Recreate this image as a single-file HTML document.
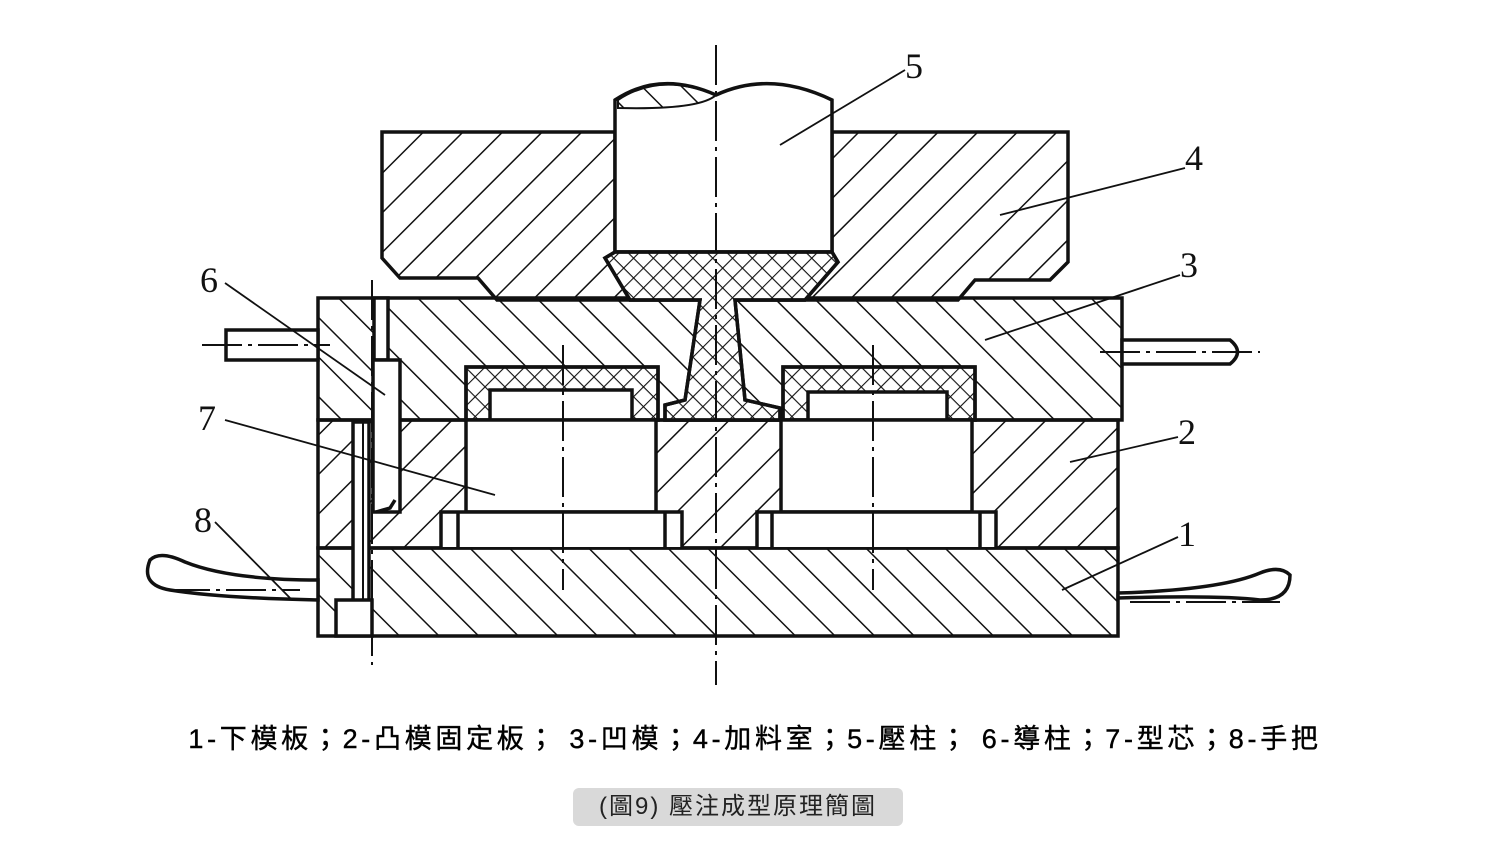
<!DOCTYPE html>
<html><head><meta charset="utf-8"><style>
body{margin:0;background:#fff;width:1500px;height:844px;overflow:hidden;position:relative;font-family:"Liberation Sans","Noto Sans CJK TC",sans-serif}
.cap{position:absolute;left:0;width:1510px;top:717px;text-align:center;font-size:27px;letter-spacing:3.7px;color:#000;-webkit-text-stroke:0.4px #000}
.box{position:absolute;left:573px;top:788px;width:330px;height:38px;background:#d9d9d9;border-radius:6px;text-align:center;line-height:38px;font-size:24px;color:#222;letter-spacing:2px}
</style></head><body>
<svg width="1500" height="700" style="position:absolute;left:0;top:0" font-family="Liberation Serif,serif">
<defs>
<pattern id="h" width="28" height="28" patternUnits="userSpaceOnUse" patternTransform="rotate(45)"><line x1="0" y1="0" x2="0" y2="28" stroke="#111" stroke-width="3"/></pattern>
<pattern id="h2" width="28" height="28" patternUnits="userSpaceOnUse" patternTransform="rotate(-45)"><line x1="0" y1="0" x2="0" y2="28" stroke="#111" stroke-width="3"/></pattern>
<pattern id="x" width="14" height="14" patternUnits="userSpaceOnUse" patternTransform="rotate(45)"><path d="M0 0V14M0 0H14" stroke="#111" stroke-width="2.2"/></pattern>
</defs>
<g stroke="#111" stroke-width="3.5" fill="none">
<path d="M382 132H615V252H832V132H1068V262L1050 280H975L958 300H497L478 278H400L382 258Z" fill="url(#h)"/>
<path d="M615 100Q660 70 716 95Q770 70 832 100V252H615Z" fill="#fff"/>
<path d="M618 100Q660 72 716 95Q700 110 618 108Z" fill="url(#h2)" stroke-width="2"/>
<rect x="318" y="298" width="804" height="122" fill="url(#h2)"/>
<rect x="318" y="420" width="800" height="128" fill="url(#h)"/>
<rect x="318" y="548" width="800" height="88" fill="url(#h2)"/>
<path d="M605 258L615 252H832L838 262L805 300H735L745 400L780 408V420H665V405L685 400L700 300H630Z" fill="#fff"/>
<path d="M605 258L615 252H832L838 262L805 300H735L745 400L780 408V420H665V405L685 400L700 300H630Z" fill="url(#x)"/>
<rect x="466" y="367" width="192" height="53" fill="#fff"/><rect x="466" y="367" width="192" height="53" fill="url(#x)"/>
<rect x="783" y="367" width="192" height="53" fill="#fff"/><rect x="783" y="367" width="192" height="53" fill="url(#x)"/>
<rect x="490" y="390" width="142" height="30" fill="#fff"/>
<rect x="808" y="392" width="139" height="28" fill="#fff"/>
<rect x="466" y="420" width="190" height="92" fill="#fff"/>
<rect x="781" y="420" width="191" height="92" fill="#fff"/>
<rect x="442" y="513" width="239" height="34" fill="#fff" stroke="none"/>
<rect x="758" y="513" width="237" height="34" fill="#fff" stroke="none"/>
<path d="M441 548V512H682V548M458 512V548M665 512V548M757 548V512H996V548M772 512V548M980 512V548"/>
<rect x="374" y="298" width="14" height="62" fill="#fff"/>
<rect x="373" y="360" width="27" height="152" fill="#fff"/>
<path d="M376 512L390 508L395 500"/>
<rect x="353" y="422" width="16" height="180" fill="#fff"/>
<rect x="336" y="600" width="36" height="36" fill="#fff"/>
<line x1="363" y1="422" x2="363" y2="600" stroke-width="2"/>
<path d="M226 330H318V360H226Z" fill="#fff"/>
<path d="M1122 340H1230Q1245 352 1230 364H1122Z" fill="#fff"/>
<path d="M150 560Q140 585 170 590Q220 598 318 600V580Q230 580 185 562Q160 550 150 560Z" fill="#fff"/>
<path d="M1118 598Q1220 595 1260 600Q1290 600 1290 575Q1280 565 1260 573Q1220 590 1118 593Z" fill="#fff"/>
</g>
<g stroke="#111" stroke-width="2" stroke-dasharray="40 6 4 6">
<line x1="716" y1="45" x2="716" y2="685"/>
<line x1="563" y1="345" x2="563" y2="590"/>
<line x1="873" y1="345" x2="873" y2="590"/>
<line x1="372" y1="280" x2="372" y2="665"/>
<line x1="202" y1="345" x2="330" y2="345"/>
<line x1="1100" y1="352" x2="1260" y2="352"/>
<line x1="170" y1="590" x2="300" y2="590"/>
<line x1="1130" y1="602" x2="1280" y2="602"/>
</g>
<g stroke="#111" stroke-width="1.8">
<line x1="780" y1="145" x2="905" y2="70"/>
<line x1="1000" y1="215" x2="1185" y2="168"/>
<line x1="985" y1="340" x2="1180" y2="275"/>
<line x1="1070" y1="462" x2="1178" y2="437"/>
<line x1="1062" y1="590" x2="1178" y2="537"/>
<line x1="225" y1="283" x2="385" y2="395"/>
<line x1="225" y1="420" x2="495" y2="495"/>
<line x1="215" y1="522" x2="292" y2="600"/>
</g>
<g font-size="36" fill="#111">
<text x="905" y="78">5</text><text x="1185" y="170">4</text><text x="1180" y="277">3</text>
<text x="1178" y="444">2</text><text x="1178" y="546">1</text>
<text x="200" y="292">6</text><text x="198" y="430">7</text><text x="194" y="532">8</text>
</g>
</svg>
<div class="cap">1-下模板；2-凸模固定板； 3-凹模；4-加料室；5-壓柱； 6-導柱；7-型芯；8-手把</div>
<div class="box">(圖9) 壓注成型原理簡圖</div>
</body></html>
